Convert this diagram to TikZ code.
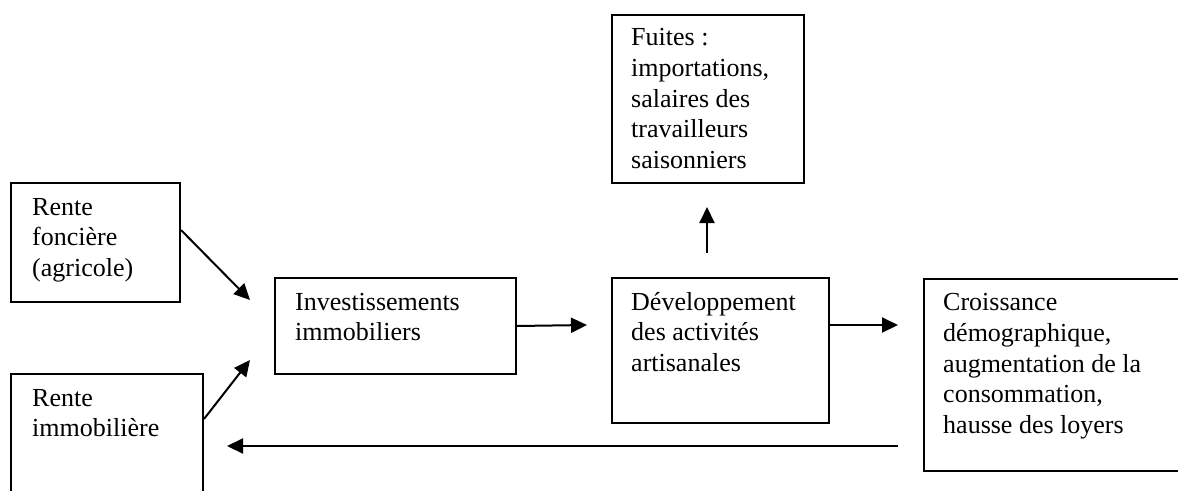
\documentclass[tikz,border=0pt]{standalone}
\usepackage{fontspec}
\setmainfont{Liberation Serif}
\usetikzlibrary{arrows.meta}
\newcommand{\boxlines}[1]{\begin{tabular}[t]{@{}l@{}}#1\end{tabular}}
\begin{document}
\begin{tikzpicture}[x=1pt,y=-1pt,
  boxnode/.style={draw, line width=2pt, inner sep=0pt, anchor=north west},
  txt/.style={anchor=base west, inner sep=0pt, font=\fontsize{26}{30.75}\selectfont},
  conn/.style={line width=2pt, -{Triangle[length=16pt,width=15pt]}}]
\useasboundingbox (0,0) rectangle (1178,490);

% boxes
\node[boxnode, minimum width=169pt, minimum height=119pt] (fon) at (10,182) {};
\node[boxnode, minimum width=192pt, minimum height=150pt] (imm) at (10,373) {};
\node[boxnode, minimum width=241pt, minimum height=96pt] (inv) at (274,277) {};
\node[boxnode, minimum width=217pt, minimum height=145pt] (dev) at (611,277) {};
\node[boxnode, minimum width=258pt, minimum height=192pt] (cro) at (923,277.5) {};
\node[boxnode, minimum width=192pt, minimum height=168pt] (fui) at (611,13.5) {};

% texts
\node[txt] (tfon) at ([shift={(22,33)}]fon.north west) {\boxlines{Rente\\foncière\\(agricole)}};
\node[txt] (timm) at ([shift={(22,33)}]imm.north west) {\boxlines{Rente\\immobilière}};
\node[txt] (tinv) at ([shift={(21,33)}]inv.north west) {\boxlines{Investissements\\immobiliers}};
\node[txt] (tdev) at ([shift={(20,33)}]dev.north west) {\boxlines{Développement\\des activités\\artisanales}};
\node[txt] (tcro) at ([shift={(20,33)}]cro.north west) {\boxlines{Croissance\\démographique,\\augmentation de la\\consommation,\\hausse des loyers}};
\node[txt] (tfui) at ([shift={(20,32)}]fui.north west) {\boxlines{Fuites :\\importations,\\salaires des\\travailleurs\\saisonniers}};

% connector ends
\coordinate (pfon) at (250,300);
\coordinate (pimm) at (250,360);
\coordinate (pdev) at (587,325);
\coordinate (pcro) at (898,325);
\coordinate (fuitail) at (707,253);
\coordinate (pfui) at (707,207);
\coordinate (backtail) at (898,446);
\coordinate (pback) at (227,446);

% connectors
\draw[conn] ([shift={(0,48)}]fon.north east) -- (pfon);
\draw[conn] ([shift={(0,46)}]imm.north east) -- (pimm);
\draw[conn] (inv.east) -- (pdev);
\draw[conn] ([shift={(0,48)}]dev.north east) -- (pcro);
\draw[conn] (fuitail) -- (pfui);
\draw[conn] (backtail) -- (pback);
\end{tikzpicture}
\end{document}
